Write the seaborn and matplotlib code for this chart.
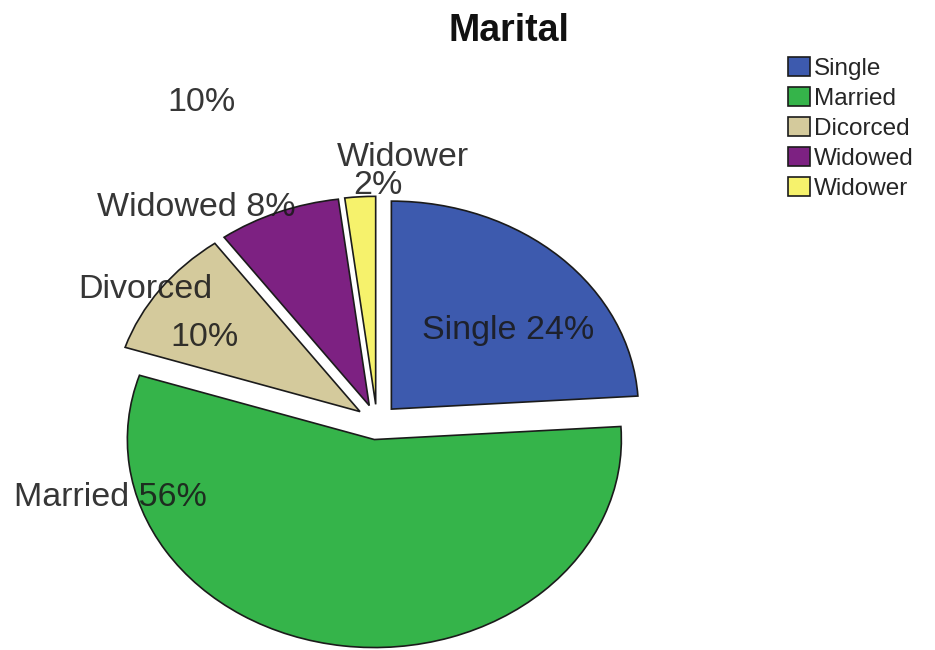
import matplotlib
matplotlib.use("Agg")
import matplotlib.pyplot as plt
from matplotlib.patches import Patch
import seaborn as sns

# Marital status shares (percent), clockwise from 12 o'clock
slice_names = ["Single", "Married", "Divorced", "Widowed", "Widower"]
legend_names = ["Single", "Married", "Dicorced", "Widowed", "Widower"]
shares = [24, 56, 10, 8, 2]
stray_share = 10

sns.set_theme(style="white")
plt.rcParams["font.family"] = ["Liberation Sans", "DejaVu Sans"]

colors = sns.color_palette(["#3d5aae", "#35b44a", "#d4ca9c", "#7d2182", "#f6f26c"])

fig = plt.figure(figsize=(9.35, 6.5), dpi=100)
ax = fig.add_axes([0, 0, 1, 1])

# pixel geometry of the pie: centre and horizontal/vertical radii
W, H = 935, 650
cx, cy = 377, 422
rx, ry = 247, 208

wedges, _ = ax.pie(
    shares,
    colors=colors,
    startangle=90,
    counterclock=False,
    explode=[0.085] * len(shares),
    wedgeprops=dict(edgecolor="#1b1b1b", linewidth=1.2),
)
ax.set_aspect("auto")
ax.set_xlim(-cx / rx, (W - cx) / rx)
ax.set_ylim(-(H - cy) / ry, cy / ry)
ax.axis("off")

lab_kw = dict(fontsize=24.5, color="#1a1a1a", alpha=0.88, ha="center", va="center")

ax.text(0.53, 0.442, f"{slice_names[0]} {shares[0]}%", **lab_kw)
ax.text(-1.08, -0.361, f"{slice_names[1]} {shares[1]}%", **lab_kw)
ax.text(-0.94, 0.635, slice_names[2], **lab_kw)
ax.text(-0.70, 0.404, f"{shares[2]}%", **lab_kw)
ax.text(-0.73, 1.029, f"{slice_names[3]} {shares[3]}%", **lab_kw)
ax.text(0.105, 1.274, slice_names[4], **lab_kw)
ax.text(0.005, 1.139, f"{shares[4]}%", **lab_kw)
ax.text(-0.71, 1.534, f"{stray_share}%", **lab_kw)

fig.text(509 / W, 1 - 31 / H, "Marital", fontsize=27, fontweight="bold",
         ha="center", va="center", color="#111111")

handles = [Patch(facecolor=c, edgecolor="#1b1b1b", linewidth=1.2) for c in colors]
fig.legend(
    handles, legend_names,
    loc="upper left", bbox_to_anchor=(788 / W, 1 - 57 / H),
    frameon=False, fontsize=17.5, handlelength=0.9, handleheight=0.85,
    handletextpad=0.15, labelspacing=0.28, borderpad=0, borderaxespad=0,
)

fig.savefig("out.png", dpi=100, facecolor="white")
